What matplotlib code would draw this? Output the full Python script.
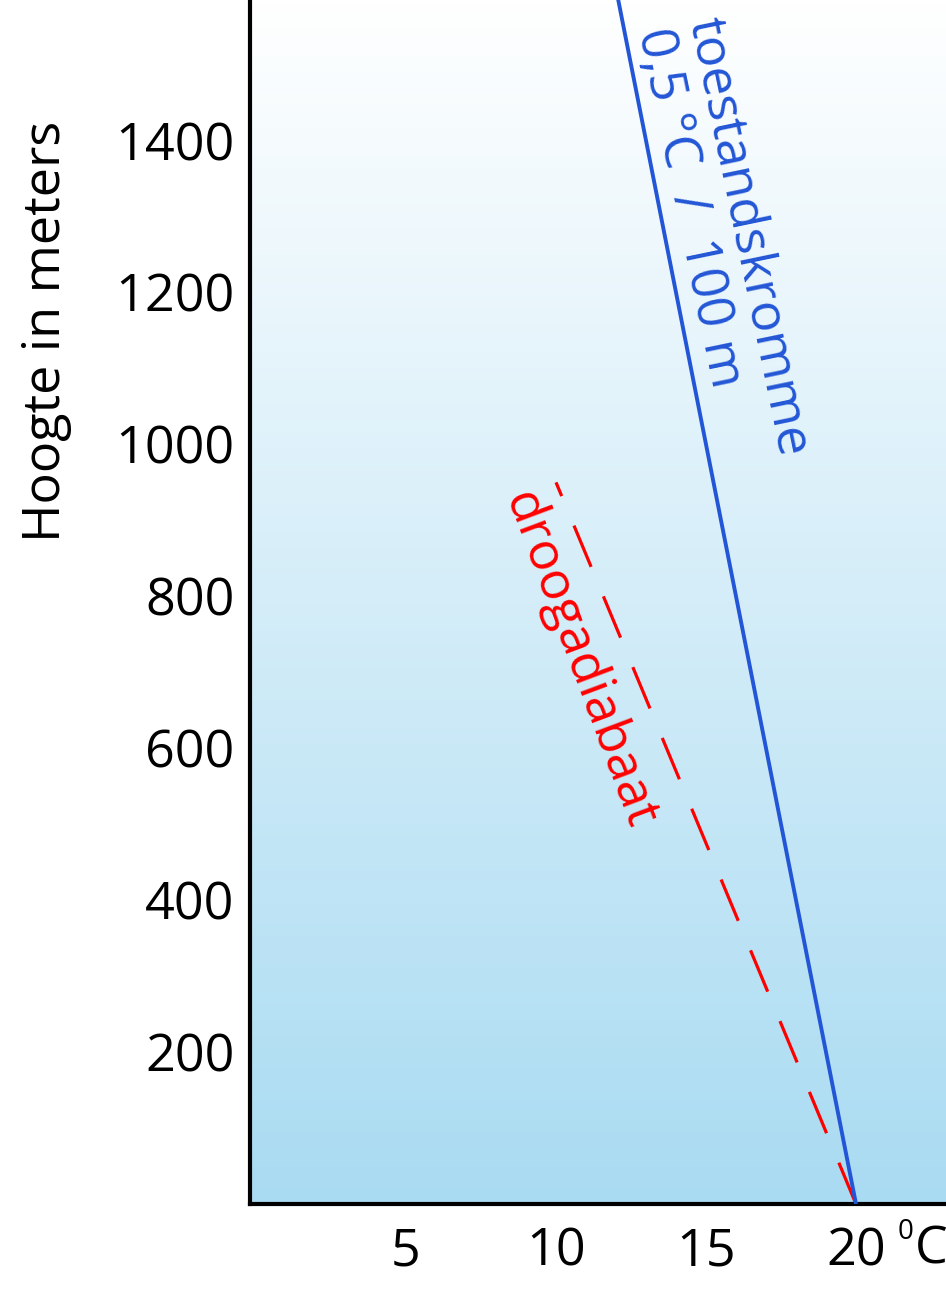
import numpy as np
import matplotlib
matplotlib.use("Agg")
import matplotlib.pyplot as plt
from matplotlib.colors import LinearSegmentedColormap

plt.rcParams['font.family'] = ['Open Sans', 'DejaVu Sans']

# ---- data ----
x_ticks = [5, 10, 15, 20]
x_tick_labels = ["5", "10", "15", "20"]
y_ticks = [200, 400, 600, 800, 1000, 1200, 1400]
y_tick_labels = ["200", "400", "600", "800", "1000", "1200", "1400"]

# toestandskromme (0.5 °C / 100 m)
state_temp = [20.0, 12.0]
state_height = [0, 1600]
# droogadiabaat (~1 °C / 100 m)
dry_temp = [20.0, 10.0]
dry_height = [0, 950]

xlim = (-0.2, 23.0)
ylim = (0, 1585)

FS = 37.5

fig = plt.figure(figsize=(9.46, 12.94), dpi=100)
ax = fig.add_axes([250/946, 1 - 1204/1294, 1 - 250/946, 1204/1294])
ax.set_xlim(*xlim)
ax.set_ylim(*ylim)

# gradient background
cmap = LinearSegmentedColormap.from_list("sky", ["#a9dbf2", "#ffffff"])
grad = np.linspace(0, 1, 256).reshape(-1, 1)
ax.imshow(grad, cmap=cmap, origin="lower", aspect="auto",
          extent=[xlim[0], xlim[1], ylim[0], ylim[1]], zorder=0)

ax.plot(state_temp, state_height, color="#2356d6", lw=2.8, zorder=3,
        solid_capstyle="butt")
ax.plot(dry_temp, dry_height, color="#ff0000", lw=2.3, zorder=2,
        dashes=(14, 10))

# spines
for s in ["top", "right"]:
    ax.spines[s].set_visible(False)
for s in ["left", "bottom"]:
    ax.spines[s].set_linewidth(3)
    ax.spines[s].set_color("black")

ax.set_xticks(x_ticks)
ax.set_xticklabels(x_tick_labels)
ax.set_yticks(y_ticks)
ax.set_yticklabels(y_tick_labels)
ax.tick_params(axis="both", length=0, labelsize=FS)
ax.tick_params(axis="y", pad=11)
ax.tick_params(axis="x", pad=16)

ax.set_ylabel("Hoogte in meters", fontsize=FS, va="center", ha="center")
ax.yaxis.set_label_coords(-0.293, 0.725)

# unit next to 20
ax.text(21.95, -27, "C", fontsize=FS, ha="left", va="top", clip_on=False)
ax.text(21.4, -18, "0", fontsize=20, ha="left", va="top", clip_on=False)

# rotated labels
ax.text(15.72, 1568, "toestandskromme\n0,5 °C  /  100 m", color="#2356d6",
        fontsize=FS, rotation=-78.3, rotation_mode="anchor",
        ha="left", va="top", linespacing=1.02)
ax.text(9.5, 948, "droogadiabaat", color="#ff0000", fontsize=FS,
        rotation=-69.5, rotation_mode="anchor", ha="left", va="top")

fig.savefig("out.png", dpi=100)
